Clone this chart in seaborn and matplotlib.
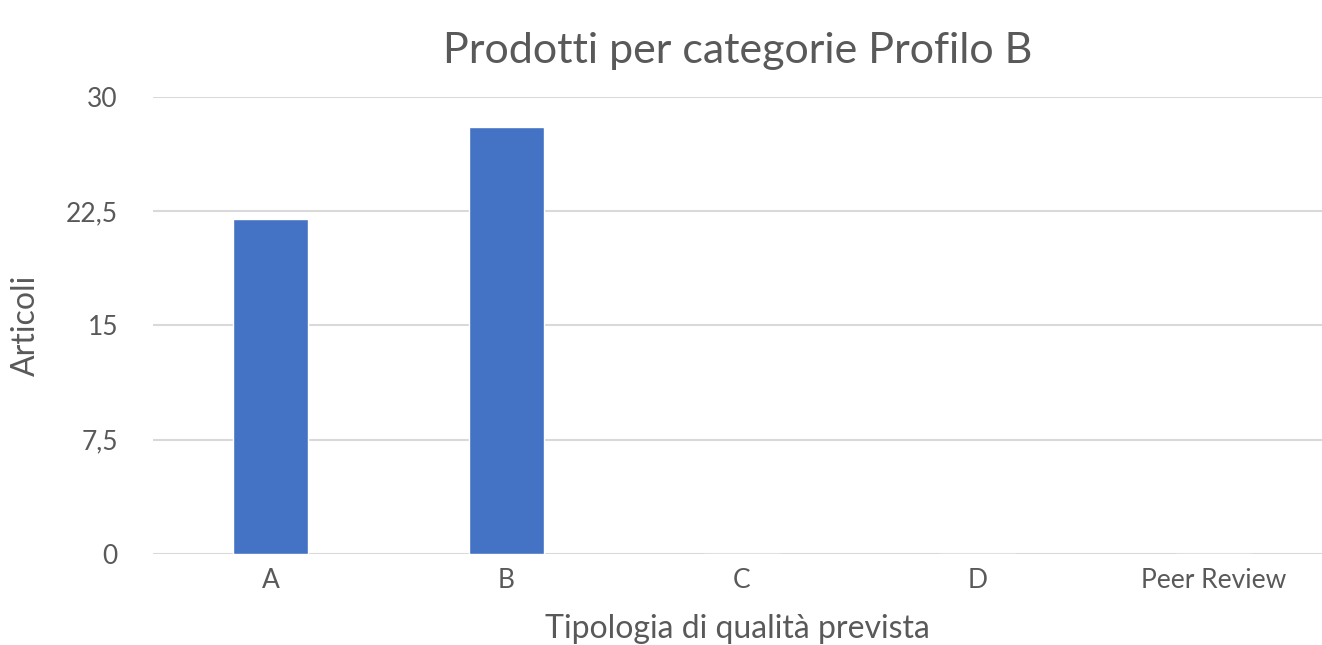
import matplotlib
matplotlib.use("Agg")
import matplotlib.pyplot as plt
import pandas as pd
import seaborn as sns

categories = ["A", "B", "C", "D", "Peer Review"]
articoli = [22, 28, 0, 0, 0]
yticks = [0, 7.5, 15, 22.5, 30]
ytick_labels = ["0", "7,5", "15", "22,5", "30"]

df = pd.DataFrame({"Tipologia": categories, "Articoli": articoli})

sns.set_style("white")
plt.rcParams["font.family"] = ["Lato", "DejaVu Sans"]
grey = "#595959"

fig = plt.figure(figsize=(13.22, 6.45), dpi=100)
ax = fig.add_axes([0.1155, 0.141, 0.8845, 0.709])

sns.barplot(x="Tipologia", y="Articoli", data=df, order=categories,
            color="#4472C4", width=0.32, saturation=1, ax=ax)

ax.set_ylim(0, 30)
ax.set_xlim(-0.5, 4.46)
ax.set_yticks(yticks)
ax.set_yticklabels(ytick_labels)
ax.yaxis.grid(True, color="#D9D9D9", linewidth=1.5)
ax.set_axisbelow(True)
for s in ax.spines.values():
    s.set_visible(False)
ax.axhline(0, color="#D0D0D0", linewidth=2, zorder=0)
ax.tick_params(axis="both", length=0, labelsize=19, labelcolor=grey)
ax.tick_params(axis="y", pad=25)
ax.tick_params(axis="x", pad=10)

ax.set_title("Prodotti per categorie Profilo B", fontsize=31, color=grey, pad=24)
ax.set_ylabel("Articoli", fontsize=23, color=grey, labelpad=18)
# reference crops this label at the bottom edge; keep it just inside
ax.set_xlabel("Tipologia di qualità prevista", fontsize=23, color=grey, labelpad=15)

fig.savefig("out.png", dpi=100)
